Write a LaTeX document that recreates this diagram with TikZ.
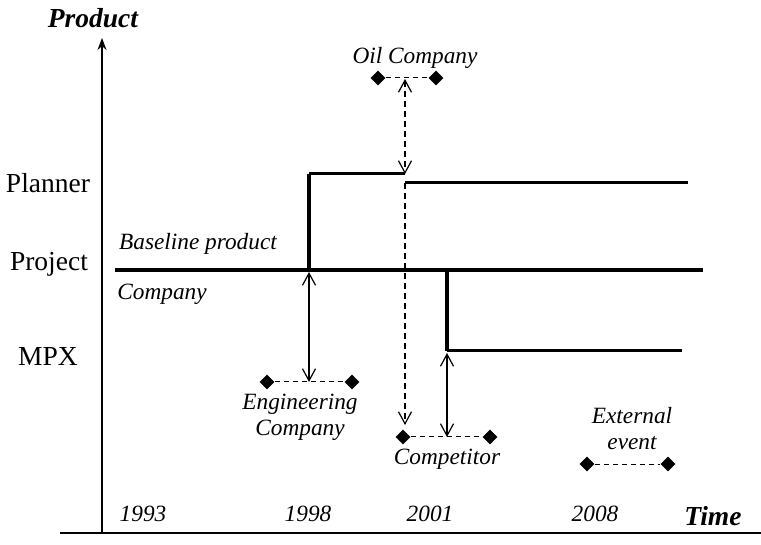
\documentclass[tikz,border=0pt]{standalone}
\usepackage{fontspec}
\setmainfont{Liberation Serif}
\usetikzlibrary{arrows.meta,shapes.geometric}
\begin{document}
\begin{tikzpicture}[x=1pt,y=-1pt,
  axis/.style={line width=1.4pt},
  prod/.style={line width=3pt},
  base/.style={line width=4.8pt},
  ev/.style={diamond,fill=black,inner sep=0pt,minimum size=15pt},
  evline/.style={line width=1pt,dash pattern=on 5pt off 4pt},
  barbs/.style={{Straight Barb[length=12pt,width=13pt]}-{Straight Barb[length=12pt,width=13pt]}},
  barb/.style={-{Straight Barb[length=12pt,width=13pt]}},
  link/.style={line width=1.2pt},
  dlink/.style={line width=1.2pt,dash pattern=on 6pt off 4pt},
  lvl/.style={font=\fontsize{27.5}{30}\selectfont},
  lab/.style={font=\fontsize{23.3}{26}\selectfont\itshape,align=center},
  ttl/.style={font=\fontsize{27.5}{30}\selectfont\bfseries\itshape},
]
\useasboundingbox (0,0) rectangle (761,545);

% axes
\coordinate (o) at (102,533);
\coordinate (ytop) at (102,38);
\coordinate (xl) at (60,533);
\coordinate (xr) at (761,533);
\draw[axis,-{Stealth[length=12pt,width=9pt]}] (o) -- (ytop);
\draw[axis] (xl) -- (xr);
\node[ttl] (ylab) at (93,18) {Product};
\node[ttl] (xlab) at (713,516) {Time};

% product levels
\node[lvl] (planner) at (48,183) {Planner};
\node[lvl] (project) at (49,264) {Project};
\node[lvl] (mpx) at (48,356) {MPX};

% baseline product line
\coordinate (b0) at (115,270);
\coordinate (b1) at (703,270);
\coordinate (bp1) at (309,270);
\coordinate (bp2) at (447,270);
\draw[base] (b0) -- (b1);
\node[lab] (baseline) at (198,244) {Baseline product};
\node[lab] (company) at (162,294) {Company};

% branch to Planner
\coordinate (p1) at (309,174);
\coordinate (p2) at (405,174);
\coordinate (p3) at (405,183);
\coordinate (p4) at (688,183);
\draw[line width=4pt] (bp1) -- (p1);
\draw[prod] (p1) -- (p2);
\draw[prod] (p3) -- (p4);

% branch to MPX
\coordinate (m1) at (447,351);
\coordinate (m2) at (682,351);
\draw[line width=4pt] (bp2) -- (m1);
\draw[prod] (m1) -- (m2);

% Oil Company event
\node[lab] (oil) at (415,58) {Oil Company};
\node[ev] (oilL) at (378,78) {};
\node[ev] (oilR) at (436,78) {};
\coordinate (oilM) at (405,79);
\draw[evline] (oilL) -- (oilR);
\draw[dlink,barbs] (oilM) -- (p2);
\coordinate (oilEnd) at (405,425);
\draw[dlink,barb] (p3) -- (oilEnd);

% Engineering Company event
\node[ev] (engL) at (267,382) {};
\node[ev] (engR) at (352,382) {};
\coordinate (engM) at (309,382);
\coordinate (engTop) at (309,272);
\draw[evline] (engL) -- (engR);
\draw[link,barbs] (engTop) -- (engM);
\node[lab] (eng) at (300,417) {Engineering\\Company};

% Competitor event
\node[ev] (compL) at (403,437) {};
\node[ev] (compR) at (490,437) {};
\coordinate (compM) at (447,437);
\coordinate (compTop) at (447,353);
\draw[evline] (compL) -- (compR);
\draw[link,barbs] (compTop) -- (compM);
\node[lab] (comp) at (447,459) {Competitor};

% External event
\node[ev] (extL) at (587,464) {};
\node[ev] (extR) at (668,464) {};
\draw[evline] (extL) -- (extR);
\node[lab] (ext) at (632,429) {External\\event};

% years
\node[lab] (y93) at (143,514) {1993};
\node[lab] (y98) at (308,514) {1998};
\node[lab] (y01) at (430,514) {2001};
\node[lab] (y08) at (595,514) {2008};
\end{tikzpicture}
\end{document}
